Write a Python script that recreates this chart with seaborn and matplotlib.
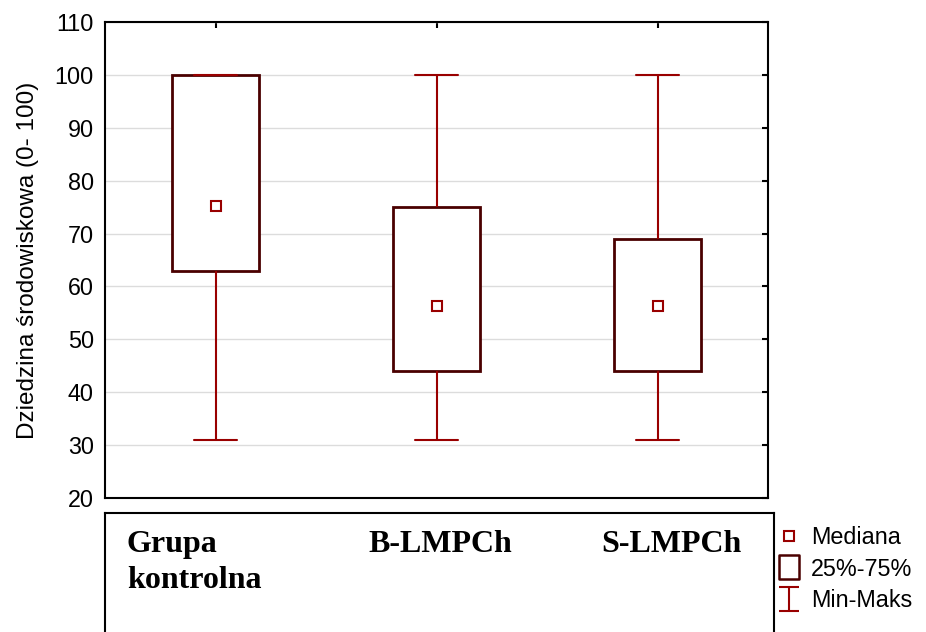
import numpy as np
import pandas as pd
import matplotlib
matplotlib.use("Agg")
import matplotlib.pyplot as plt
import seaborn as sns
from matplotlib.path import Path
from matplotlib.lines import Line2D

# ---- data ----
categories = ["Grupa kontrolna", "B-LMPCh", "S-LMPCh"]
minimum = [31, 31, 31]
q1 = [63, 44, 44]
median = [75.3, 56.3, 56.3]
q3 = [100, 75, 69]
maximum = [100, 100, 100]
y_ticks = [20, 30, 40, 50, 60, 70, 80, 90, 100, 110]
y_label = "Dziedzina środowiskowa (0- 100)"
legend_labels = ["Mediana", "25%-75%", "Min-Maks"]

# five-number table per group -> quartiles computed by the boxplot equal these values
df = pd.DataFrame({
    "grupa": np.repeat(categories, 5),
    "wartosc": np.ravel(np.column_stack([minimum, q1, median, q3, maximum])),
})

BOX_C = "#4a0000"
WH_C = "#990000"
MED_C = "#990000"

sns.set_style("white")
plt.rcParams["font.family"] = ["Liberation Sans", "DejaVu Sans"]
plt.rcParams["text.color"] = "black"
plt.rcParams["axes.labelcolor"] = "black"

W, H = 926, 632
fig = plt.figure(figsize=(W / 100, H / 100), dpi=100)
ax = fig.add_axes([105 / W, 1 - 498 / H, 663 / W, 476 / H])

sns.boxplot(
    data=df, x="grupa", y="wartosc", order=categories, whis=(0, 100),
    width=0.39, color="white", linecolor=BOX_C, linewidth=1.7,
    showfliers=False, saturation=1, ax=ax,
    medianprops=dict(visible=False),
    whiskerprops=dict(color=WH_C, linewidth=1.5),
    capprops=dict(color=WH_C, linewidth=1.5),
    boxprops=dict(edgecolor=BOX_C, linewidth=2.0),
)
sns.pointplot(
    x=categories, y=median, order=categories, linestyle="none", marker="s",
    markersize=7.5, markerfacecolor="white", markeredgecolor=MED_C,
    markeredgewidth=1.5, color=MED_C, errorbar=None, ax=ax, zorder=5,
)

ax.set_xlim(-0.5, 2.5)
ax.set_ylim(20, 110)
ax.set_yticks(y_ticks)
ax.set_xticks(range(len(categories)))
ax.set_xticklabels([])
ax.set_xlabel("")
ax.set_ylabel(y_label, fontsize=17.5, labelpad=11, color="black")
ax.yaxis.grid(True, color="#dcdcdc", linewidth=1)
ax.xaxis.grid(False)
ax.set_axisbelow(True)
ax.tick_params(direction="in", top=True, right=True, length=4, width=1.5,
               labelsize=16.8, colors="black", pad=8)
for s in ax.spines.values():
    s.set_visible(True)
    s.set_color("black")
    s.set_linewidth(1.5)

# lower label panel
lax = fig.add_axes([105 / W, 0, 669 / W, 119 / H])
lax.set_xticks([])
lax.set_yticks([])
lax.set_facecolor("white")
for name, s in lax.spines.items():
    s.set_color("black")
    s.set_linewidth(1.5)
lax.spines["bottom"].set_visible(False)

label_x = [127, 368, 601]
for cat, lx in zip(categories, label_x):
    fig.text(lx / W, 1 - 530 / H, cat.replace(" ", "\n"),
             fontfamily=["Liberation Serif", "DejaVu Serif"], fontweight="bold",
             fontsize=23, va="top", ha="left", linespacing=1.3, color="black")

# legend
rect = Path([(-0.42, -0.5), (0.42, -0.5), (0.42, 0.5), (-0.42, 0.5), (-0.42, -0.5)],
            [Path.MOVETO, Path.LINETO, Path.LINETO, Path.LINETO, Path.CLOSEPOLY])
whisk = Path([(-0.42, 0.5), (0.42, 0.5), (0, 0.5), (0, -0.5), (-0.42, -0.5), (0.42, -0.5)],
             [Path.MOVETO, Path.LINETO, Path.MOVETO, Path.LINETO, Path.MOVETO, Path.LINETO])
handles = [
    Line2D([], [], linestyle="none", marker="s", markersize=7, markerfacecolor="white",
           markeredgecolor=MED_C, markeredgewidth=1.5),
    Line2D([], [], linestyle="none", marker=rect, markersize=17, markerfacecolor="white",
           markeredgecolor=BOX_C, markeredgewidth=1.8),
    Line2D([], [], linestyle="none", marker=whisk, markersize=17.5, markerfacecolor="none",
           markeredgecolor=WH_C, markeredgewidth=1.5),
]
fig.legend(handles, legend_labels, loc="upper left",
           bbox_to_anchor=(776 / W, 1 - 526 / H), frameon=False, fontsize=16.8,
           handlelength=1.1, handletextpad=0.4, labelspacing=0.37, borderpad=0,
           borderaxespad=0)

fig.savefig("out.png", dpi=100, facecolor="white")
